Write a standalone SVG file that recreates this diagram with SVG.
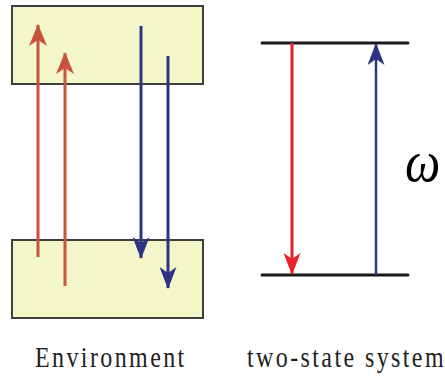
<svg xmlns="http://www.w3.org/2000/svg" width="445" height="379" viewBox="0 0 445 379">
<style>
.box{fill:#f3f6c9;stroke:#3e3e3e;stroke-width:2}
.red{stroke:#c9533b;stroke-width:3;fill:none}
.blue{stroke:#2e3484;stroke-width:3;fill:none}
.red2{stroke:#e8202a;stroke-width:3;fill:none}
.blue2{stroke:#2e3484;stroke-width:2.5;fill:none}
.lvl{stroke:#1a1a1a;stroke-width:3;stroke-linecap:round}
.lbl{font-family:"Liberation Serif","Times New Roman",serif;font-size:24px;fill:#1e1e1e;letter-spacing:2.4px}
.omega{font-family:"Liberation Serif","Times New Roman",serif;font-style:italic;font-size:50px;fill:#000}
</style>
<defs>
<marker id="ahR" markerUnits="userSpaceOnUse" markerWidth="22" markerHeight="18" refX="21" refY="9" orient="auto" viewBox="0 0 22 18">
<path d="M22,9 L0,0 L6,9 L0,18 Z" fill="#c9533b"/>
</marker>
<marker id="ahB" markerUnits="userSpaceOnUse" markerWidth="22" markerHeight="17" refX="21" refY="8.5" orient="auto" viewBox="0 0 22 17">
<path d="M22,8.5 L0,0 L6,8.5 L0,17 Z" fill="#2e3484"/>
</marker>
<marker id="ahR2" markerUnits="userSpaceOnUse" markerWidth="22" markerHeight="17" refX="21" refY="8.5" orient="auto" viewBox="0 0 22 17">
<path d="M22,8.5 L0,0 L6,8.5 L0,17 Z" fill="#e8202a"/>
</marker>
<marker id="ahB2" markerUnits="userSpaceOnUse" markerWidth="22" markerHeight="17" refX="21" refY="8.5" orient="auto" viewBox="0 0 22 17">
<path d="M22,8.5 L0,0 L6,8.5 L0,17 Z" fill="#2e3484"/>
</marker>
</defs>
<g id="env-top"><rect class="box" x="12" y="6" width="191" height="78"/></g>
<g id="env-bottom"><rect class="box" x="12" y="240" width="191" height="78"/></g>
<g id="level-top"><line class="lvl" x1="262" y1="43" x2="408" y2="43"/></g>
<g id="level-bottom"><line class="lvl" x1="262" y1="275" x2="408" y2="275"/></g>
<g id="connectors">
<line class="red" x1="38" y1="257" x2="38" y2="25" marker-end="url(#ahR)"/>
<line class="red" x1="65" y1="286" x2="65" y2="53" marker-end="url(#ahR)"/>
<line class="blue" x1="141" y1="26" x2="141" y2="258" marker-end="url(#ahB)"/>
<line class="blue" x1="168" y1="56" x2="168" y2="288" marker-end="url(#ahB)"/>
<line class="red2" x1="292" y1="43" x2="292" y2="274" marker-end="url(#ahR2)"/>
<line class="blue2" x1="376" y1="275" x2="376" y2="44" marker-end="url(#ahB2)"/>
</g>
<g id="labels">
<text class="lbl" transform="translate(35,367) scale(1,1.26)">Environment</text>
<text class="lbl" transform="translate(247,367) scale(1,1.26)">two-state system</text>
<text class="omega" transform="translate(405,181) scale(1,1.2)">ω</text>
</g>
</svg>
